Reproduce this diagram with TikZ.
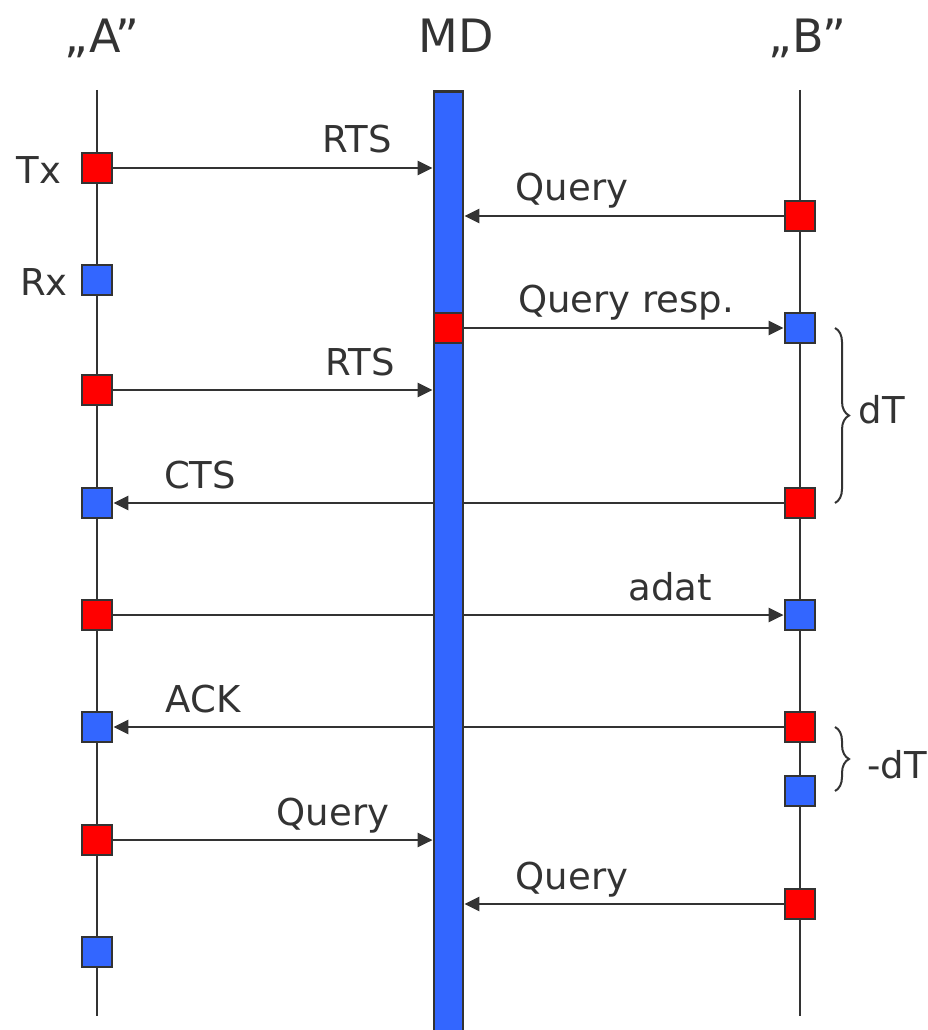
\documentclass[tikz,border=0pt]{standalone}
\usepackage{fontspec}
\setmainfont{DejaVu Sans}
\usetikzlibrary{arrows.meta,decorations.pathreplacing}
\definecolor{sqred}{HTML}{FF0000}
\definecolor{sqblue}{HTML}{3366FF}
\definecolor{ink}{HTML}{333333}
\pgfdeclarelayer{bg}
\pgfsetlayers{bg,main}
\begin{document}
\begin{tikzpicture}[x=1pt,y=-1pt,
	life/.style={draw=ink,line width=2.7pt},
	redsq/.style={draw=ink,line width=2.7pt,fill=sqred,minimum size=30pt,inner sep=0pt},
	bluesq/.style={redsq,fill=sqblue},
	msg/.style={draw=ink,line width=2.7pt,-{Triangle[length=15pt,width=14pt]}},
	lbl/.style={text=ink,font=\fontsize{37}{40}\selectfont,anchor=base,inner sep=0pt},
	ttl/.style={lbl,font=\fontsize{46}{50}\selectfont},
	dtbrace/.style={draw=ink,line width=2pt,decorate,decoration={brace,amplitude=14pt}}]
		\useasboundingbox (0,0) rectangle (927,1030);
		\def \xa{97}
		\def \xm{448.5}
		\def \xb{800}
		% lifelines
		\coordinate (atop) at (\xa,90);
		\coordinate (abot) at (\xa,1016);
		\coordinate (btop) at (\xb,90);
		\coordinate (bbot) at (\xb,1016);
		\node[draw=ink,line width=2.7pt,fill=sqblue,minimum width=29pt,minimum height=950pt,inner sep=0pt,anchor=north] (md) at (\xm,90) {};
		% squares on A
		\node[redsq] (a1) at (\xa,168) {};
		\node[bluesq] (a2) at (\xa,280) {};
		\node[redsq] (a3) at (\xa,390) {};
		\node[bluesq] (a4) at (\xa,503) {};
		\node[redsq] (a5) at (\xa,615) {};
		\node[bluesq] (a6) at (\xa,727) {};
		\node[redsq] (a7) at (\xa,840) {};
		\node[bluesq] (a8) at (\xa,952) {};
		% squares on B
		\node[redsq] (b1) at (\xb,216) {};
		\node[bluesq] (b2) at (\xb,328) {};
		\node[redsq] (b3) at (\xb,503) {};
		\node[bluesq] (b4) at (\xb,615) {};
		\node[redsq] (b5) at (\xb,727) {};
		\node[bluesq] (b6) at (\xb,791) {};
		\node[redsq] (b7) at (\xb,904) {};
		% square on MD
		\node[redsq,minimum width=29pt] (m1) at (\xm,328) {};
		\begin{pgfonlayer}{bg}
		\draw[life] (atop) -- (abot);
		\draw[life] (btop) -- (bbot);
		\draw[msg] (a1) -- (a1 -| md.west);
		\draw[msg] (b1) -- (b1 -| md.east);
		\draw[msg] (m1) -- (b2);
		\draw[msg] (a3) -- (a3 -| md.west);
		\draw[msg] (b3) -- (a4);
		\draw[msg] (a5) -- (b4);
		\draw[msg] (b5) -- (a6);
		\draw[msg] (a7) -- (a7 -| md.west);
		\draw[msg] (b7) -- (b7 -| md.east);
		\end{pgfonlayer}
		% braces
		\draw[dtbrace] ([xshift=35pt]b2.center) -- ([xshift=35pt]b3.center);
		\draw[dtbrace] ([xshift=35pt]b5.center) -- ([xshift=35pt]b6.center);
		% labels
		\node[ttl] (ta) at (102,53) {„\hspace{1pt}A”};
		\node[ttl] (tm) at (456,53) {MD};
		\node[ttl] (tb) at (807,53) {„\hspace{1pt}B”};
		\node[lbl] (tx) at (39,183) {Tx};
		\node[lbl] (rx) at (44,295) {Rx};
		\node[lbl] (rts1) at (357,152) {RTS};
		\node[lbl] (q1) at (572,200) {Query};
		\node[lbl] (qr) at (626,312) {Query resp.};
		\node[lbl] (rts2) at (360,375) {RTS};
		\node[lbl] (cts) at (200,488) {CTS};
		\node[lbl] (adat) at (670,600) {adat};
		\node[lbl] (ack) at (203,712) {ACK};
		\node[lbl] (q2) at (333,825) {Query};
		\node[lbl] (q3) at (572,889) {Query};
		\node[lbl] (dt) at (882,423) {dT};
		\node[lbl] (mdt) at (897,778) {-dT};
	\end{tikzpicture}
\end{document}
